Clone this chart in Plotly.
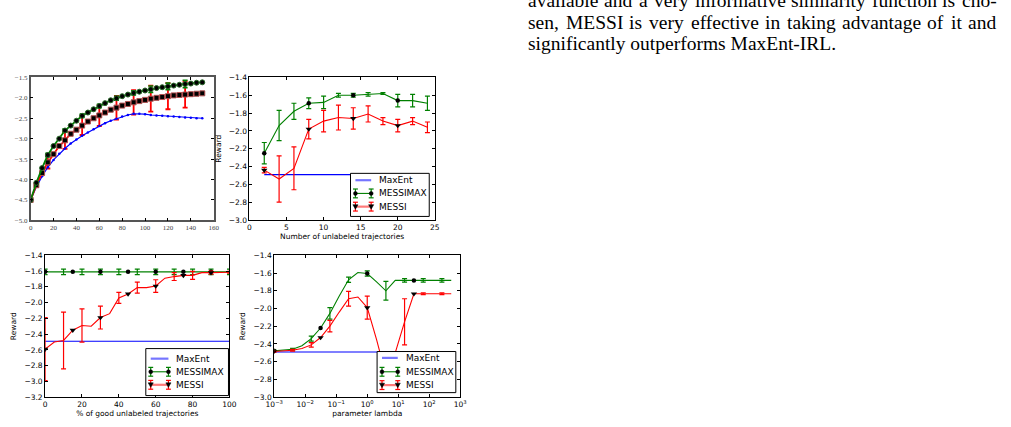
import plotly.graph_objects as go

W, H = 1011, 427

# ---------------- data ----------------
# Panel 1 (top-left): reward vs. x
p1_x = [0, 5, 10, 15, 20, 25, 30, 35, 40, 45, 50, 55, 60, 65, 70, 75, 80, 85, 90, 95,
        100, 105, 110, 115, 120, 125, 130, 135, 140, 145, 150]
p1_messimax = [-4.50, -4.08, -3.72, -3.40, -3.18, -3.00, -2.80, -2.68, -2.56, -2.44, -2.36,
               -2.28, -2.20, -2.13, -2.06, -2.01, -1.96, -1.92, -1.88, -1.85, -1.82, -1.79,
               -1.76, -1.74, -1.72, -1.70, -1.68, -1.66, -1.65, -1.63, -1.62]
p1_messi = [-4.50, -4.14, -3.84, -3.58, -3.38, -3.18, -3.04, -2.88, -2.78, -2.68, -2.58,
            -2.50, -2.43, -2.36, -2.29, -2.24, -2.19, -2.15, -2.11, -2.08, -2.05, -2.02,
            -2.00, -1.98, -1.96, -1.94, -1.93, -1.92, -1.91, -1.90, -1.89]
p1_maxent = [-4.50, -4.18, -3.92, -3.70, -3.52, -3.37, -3.24, -3.12, -3.02, -2.93, -2.85,
             -2.77, -2.69, -2.62, -2.56, -2.51, -2.46, -2.42, -2.39, -2.39, -2.40, -2.42,
             -2.43, -2.44, -2.45, -2.46, -2.47, -2.48, -2.49, -2.50, -2.50]
p1_err_x = [15, 30, 45, 60, 75, 90, 105, 120, 135]
p1_messi_err = [0.15, 0.21, 0.23, 0.26, 0.29, 0.30, 0.32, 0.32, 0.32]
p1_messimax_err = [0.04, 0.04, 0.04, 0.04, 0.05, 0.05, 0.08, 0.08, 0.09]

# Panel 2 (top-right): number of unlabeled trajectories
p2_x = [2, 4, 6, 8, 10, 12, 14, 16, 18, 20, 22, 24]
p2_messimax = [-2.25, -1.94, -1.78, -1.69, -1.68, -1.60, -1.60, -1.59, -1.58, -1.66, -1.66, -1.69]
p2_messimax_err = [0.12, 0.17, 0.09, 0.06, 0.07, 0.02, 0.02, 0.02, 0.01, 0.07, 0.07, 0.08]
p2_messi = [-2.44, -2.54, -2.42, -1.98, -1.89, -1.85, -1.86, -1.81, -1.89, -1.94, -1.89, -1.96]
p2_messi_err = [0.03, 0.26, 0.24, 0.11, 0.12, 0.14, 0.12, 0.09, 0.04, 0.07, 0.04, 0.06]
p2_maxent = [-2.49, -2.49, -2.49, -2.49, -2.49, -2.49, -2.49, -2.49, -2.49, -2.49, -2.49, -2.49]

# Panel 3 (bottom-left): % of good unlabeled trajectories
p3_x = [0, 5, 10, 15, 20, 25, 30, 35, 40, 45, 50, 55, 60, 65, 70, 75, 80, 85, 90, 95, 100]
p3_messimax = [-1.61, -1.61, -1.61, -1.61, -1.61, -1.61, -1.61, -1.61, -1.61, -1.61, -1.61,
               -1.61, -1.61, -1.61, -1.61, -1.61, -1.61, -1.61, -1.61, -1.61, -1.61]
p3_messi = [-2.59, -2.50, -2.48, -2.35, -2.29, -2.30, -2.19, -2.14, -1.94, -1.89, -1.81,
            -1.81, -1.79, -1.69, -1.67, -1.655, -1.655, -1.62, -1.62, -1.62, -1.615]
p3_err_x = [0, 10, 20, 30, 40, 50, 60, 70, 80, 90, 100]
p3_messimax_err = [0.035, 0.035, 0.035, 0.035, 0.035, 0.035, 0.035, 0.035, 0.035, 0.035, 0.035]
p3_messi_err = [0.40, 0.36, 0.21, 0.145, 0.07, 0.07, 0.08, 0.05, 0.05, 0.02, 0.01]
p3_maxent = [-2.49, -2.49, -2.49, -2.49, -2.49, -2.49, -2.49, -2.49, -2.49, -2.49, -2.49,
             -2.49, -2.49, -2.49, -2.49, -2.49, -2.49, -2.49, -2.49, -2.49, -2.49]

# Panel 4 (bottom-right): parameter lambda (log scale)
p4_lambda = [0.0009765625, 0.001953125, 0.00390625, 0.0078125, 0.015625, 0.03125, 0.0625,
             0.125, 0.25, 0.5, 1, 2, 4, 8, 16, 32, 64, 128, 256, 512]
p4_messimax = [-2.477, -2.47, -2.46, -2.42, -2.34, -2.22, -2.055, -1.86, -1.676, -1.594,
               -1.605, -1.70, -1.80, -1.683, -1.683, -1.683, -1.683, -1.683, -1.683, -1.683]
p4_messi = [-2.485, -2.48, -2.47, -2.45, -2.41, -2.327, -2.198, -2.04, -1.89, -1.87,
            -1.99, -2.35, -2.75, -2.50, -2.15, -1.834, -1.834, -1.834, -1.834, -1.834]
p4_err_x = [0.0009765625, 0.00390625, 0.015625, 0.0625, 0.25, 1, 4, 16, 64, 256]
p4_messimax_err = [0.01, 0.01, 0.028, 0.064, 0.03, 0.03, 0.105, 0.02, 0.02, 0.02]
p4_messi_err = [0.01, 0.01, 0.025, 0.065, 0.083, 0.13, 0.10, 0.26, 0.01, 0.01]
p4_maxent = [-2.49, -2.49, -2.49, -2.49, -2.49, -2.49, -2.49, -2.49, -2.49, -2.49,
             -2.49, -2.49, -2.49, -2.49, -2.49, -2.49, -2.49, -2.49, -2.49, -2.49]
p4_tickvals = [0.001, 0.01, 0.1, 1, 10, 100, 1000]
p4_ticktext = ["10<sup>−3</sup>", "10<sup>−2</sup>", "10<sup>−1</sup>", "10<sup>0</sup>",
               "10<sup>1</sup>", "10<sup>2</sup>", "10<sup>3</sup>"]

series_names = ["MaxEnt", "MESSIMAX", "MESSI"]

paragraph = ["available and a very informative similarity function is cho-",
             "sen, MESSI is very effective in taking advantage of it and",
             "significantly outperforms MaxEnt-IRL."]

# ---------------- helpers ----------------
GREEN = "#008000"
RED = "#ff0000"
BLUE = "#0000ff"


def fx(v):
    return v / W


def fy(v):
    return 1 - v / H


fig = go.Figure()


def line(x, y, color, width, xa, ya, mk=None, mk_every=None):
    fig.add_trace(go.Scatter(x=x, y=y, mode="lines", line=dict(color=color, width=width),
                             xaxis=xa, yaxis=ya, showlegend=False, hoverinfo="skip"))
    if mk is not None:
        if mk_every:
            xs = x[::mk_every]
            ys = y[::mk_every]
        else:
            xs, ys = x, y
        fig.add_trace(go.Scatter(x=xs, y=ys, mode="markers", marker=mk,
                                 xaxis=xa, yaxis=ya, showlegend=False, hoverinfo="skip"))


def errs(x, y, ex, err, color, xa, ya, thick=1.2, cap=2.5):
    ys = [y[x.index(v)] for v in ex]
    fig.add_trace(go.Scatter(x=ex, y=ys, mode="markers",
                             marker=dict(size=1, color="rgba(0,0,0,0)"),
                             error_y=dict(type="data", array=err, color=color,
                                          thickness=thick, width=cap),
                             xaxis=xa, yaxis=ya, showlegend=False, hoverinfo="skip"))


# ---------------- panel 1 ----------------
errs(p1_x, p1_messi, p1_err_x, p1_messi_err, RED, "x", "y", thick=1.8, cap=2.5)
line(p1_x, p1_maxent, BLUE, 1.2, "x", "y", mk=dict(size=2.5, color=BLUE, symbol="circle"))
line(p1_x, p1_messi, RED, 1.8, "x", "y",
     mk=dict(size=5, color="black", symbol="square", line=dict(color="#b05050", width=1)))
errs(p1_x, p1_messimax, p1_err_x, p1_messimax_err, GREEN, "x", "y", thick=1.6, cap=2.5)
line(p1_x, p1_messimax, GREEN, 1.8, "x", "y",
     mk=dict(size=5, color="black", symbol="circle", line=dict(color="#2a6a2a", width=1)))

# ---------------- panels 2-4 ----------------
MK_MAX = dict(size=4.5, color="black", symbol="circle")
MK_MES = dict(size=5.5, color="black", symbol="triangle-down")


def panel(x, maxent, messimax, mm_err_x, mm_err, messi, me_err_x, me_err, xa, ya, every):
    line(x, maxent, BLUE, 1.1, xa, ya)
    errs(x, messimax, mm_err_x, mm_err, GREEN, xa, ya)
    line(x, messimax, GREEN, 1.1, xa, ya, mk=MK_MAX, mk_every=every)
    errs(x, messi, me_err_x, me_err, RED, xa, ya)
    line(x, messi, RED, 1.1, xa, ya, mk=MK_MES, mk_every=every)


panel(p2_x, p2_maxent, p2_messimax, p2_x, p2_messimax_err, p2_messi, p2_x, p2_messi_err,
      "x2", "y2", 3)
panel(p3_x, p3_maxent, p3_messimax, p3_err_x, p3_messimax_err, p3_messi, p3_err_x,
      p3_messi_err, "x3", "y3", 3)
panel(p4_lambda, p4_maxent, p4_messimax, p4_err_x, p4_messimax_err, p4_messi, p4_err_x,
      p4_messi_err, "x4", "y4", 5)

# ---------------- axes ----------------
SANS = "DejaVu Sans"


def ax(domain, font=None, **kw):
    d = dict(domain=domain, showline=True, linecolor="black", linewidth=1, mirror="ticks",
             ticks="inside", ticklen=3, tickwidth=1, tickcolor="black", showgrid=False,
             zeroline=False, tickfont=font or dict(family=SANS, size=7.5, color="black"))
    d.update(kw)
    return d


SERIF_TICK = dict(family="Liberation Serif", size=7, color="#444444")
TITLE_FONT = dict(family=SANS, size=7.5, color="black")

fig.update_layout(
    xaxis=ax([fx(22), fx(208)], SERIF_TICK, anchor="y", range=[0, 160], tick0=0, dtick=20,
             linecolor="#555555", linewidth=1.5),
    yaxis=ax([fy(221), fy(75)], SERIF_TICK, anchor="x", range=[-5, -1.5], tick0=-5, dtick=0.5,
             tickformat=".1f", linecolor="#555555", linewidth=1.5),
    xaxis2=ax([fx(244.3), fx(432.7)], anchor="y2", range=[0, 25], tick0=0, dtick=5,
              title=dict(text="Number of unlabeled trajectories", font=TITLE_FONT, standoff=1)),
    yaxis2=ax([fy(220.7), fy(75)], anchor="x2", range=[-3.0, -1.4], tick0=-1.4, dtick=0.2,
              tickformat=".1f", title=dict(text="Reward", font=TITLE_FONT, standoff=6)),
    xaxis3=ax([fx(36.7), fx(224)], anchor="y3", range=[0, 100], tick0=0, dtick=20,
              title=dict(text="% of good unlabeled trajectories", font=TITLE_FONT, standoff=1)),
    yaxis3=ax([fy(401.7), fy(256.7)], anchor="x3", range=[-3.2, -1.4], tick0=-1.4, dtick=0.2,
              tickformat=".1f", title=dict(text="Reward", font=TITLE_FONT, standoff=6)),
    xaxis4=ax([fx(269.5), fx(458.5)], anchor="y4", type="log", range=[-3, 3],
              tickmode="array", tickvals=p4_tickvals, ticktext=p4_ticktext,
              title=dict(text="parameter lambda", font=TITLE_FONT, standoff=1)),
    yaxis4=ax([fy(401.7), fy(256.7)], anchor="x4", range=[-3.0, -1.4], tick0=-1.4, dtick=0.2,
              tickformat=".1f", title=dict(text="Reward", font=TITLE_FONT, standoff=6)),
    showlegend=False,
)

# ---------------- legends (drawn boxes, matplotlib style) ----------------
shapes = []
annotations = []


def seg(x0, y0, x1, y1, color, width):
    shapes.append(dict(type="line", xref="paper", yref="paper", x0=fx(x0), y0=fy(y0),
                       x1=fx(x1), y1=fy(y1), line=dict(color=color, width=width),
                       layer="above"))


def ebar(cx, cy, color):
    seg(cx, cy - 4.5, cx, cy + 4.5, color, 1.2)
    seg(cx - 2.5, cy - 4.5, cx + 2.5, cy - 4.5, color, 1.2)
    seg(cx - 2.5, cy + 4.5, cx + 2.5, cy + 4.5, color, 1.2)


def dot(cx, cy):
    shapes.append(dict(type="circle", xref="paper", yref="paper", x0=fx(cx - 2), y0=fy(cy + 2),
                       x1=fx(cx + 2), y1=fy(cy - 2), fillcolor="black",
                       line=dict(color="black", width=0.5), layer="above"))


def tri(cx, cy):
    p = "M {} {} L {} {} L {} {} Z".format(fx(cx - 2.6), fy(cy - 2), fx(cx + 2.6), fy(cy - 2),
                                            fx(cx), fy(cy + 2.6))
    shapes.append(dict(type="path", xref="paper", yref="paper", path=p, fillcolor="black",
                       line=dict(color="black", width=0.5), layer="above"))


def legend_box(x0, x1, y0, y1, rows, sx0, sx1, tx):
    shapes.append(dict(type="rect", xref="paper", yref="paper", x0=fx(x0), y0=fy(y1),
                       x1=fx(x1), y1=fy(y0), fillcolor="white",
                       line=dict(color="black", width=1), layer="above"))
    # MaxEnt
    seg(sx0, rows[0], sx1, rows[0], "#7575ff", 2.2)
    # MESSIMAX
    seg(sx0, rows[1], sx1, rows[1], GREEN, 1.1)
    ebar(sx0, rows[1], GREEN)
    ebar(sx1, rows[1], GREEN)
    dot(sx0, rows[1])
    dot(sx1, rows[1])
    # MESSI
    seg(sx0, rows[2], sx1, rows[2], "#ff7a7a", 2.2)
    ebar(sx0, rows[2], RED)
    ebar(sx1, rows[2], RED)
    tri(sx0, rows[2])
    tri(sx1, rows[2])
    for name, ry in zip(series_names, rows):
        annotations.append(dict(text=name, x=fx(tx), y=fy(ry), xref="paper", yref="paper",
                                xanchor="left", yanchor="middle", showarrow=False,
                                borderpad=0, borderwidth=0,
                                font=dict(family=SANS, size=9, color="black")))


legend_box(347, 427, 173, 217, [180.0, 193.5, 207.0], 352, 368, 376)
legend_box(139, 223, 352, 400, [362.3, 375.7, 389.0], 144, 162, 169.5)
legend_box(374, 454, 355, 397, [361.5, 375.7, 389.3], 379, 395, 403)

# ---------------- paragraph text (justified) ----------------
TW = {' ': 250, ',': 250, '.': 250, '-': 333, 'a': 444, 'b': 500, 'c': 444, 'd': 500,
      'e': 444, 'f': 333, 'g': 500, 'h': 500, 'i': 278, 'j': 278, 'k': 500, 'l': 278,
      'm': 778, 'n': 500, 'o': 500, 'p': 500, 'q': 500, 'r': 333, 's': 389, 't': 278,
      'u': 500, 'v': 500, 'w': 722, 'x': 500, 'y': 500, 'z': 444, 'M': 889, 'E': 611,
      'S': 556, 'I': 333, 'A': 722, 'X': 722, 'R': 667, 'L': 611}
FS = 19.5
LEFT, RIGHT = 527.5, 1003.0
baselines = [3.5, 25.5, 46.5]
justify = [True, True, False]


def tw(s):
    return sum(TW.get(c, 500) for c in s) * FS / 1000.0


for text, base, just in zip(paragraph, baselines, justify):
    cy = base - 0.3375 * FS
    if just:
        words = text.split(" ")
        widths = [tw(w) for w in words]
        gap = (RIGHT - LEFT - sum(widths)) / (len(words) - 1)
        xpos = LEFT
        for w, wd in zip(words, widths):
            annotations.append(dict(text=w, x=fx(xpos), y=fy(cy), xref="paper", yref="paper",
                                    xanchor="left", yanchor="middle", showarrow=False,
                                    borderpad=0, borderwidth=0,
                                    font=dict(family="Liberation Serif", size=FS, color="black")))
            xpos += wd + gap
    else:
        annotations.append(dict(text=text, x=fx(LEFT), y=fy(cy), xref="paper", yref="paper",
                                xanchor="left", yanchor="middle", showarrow=False,
                                borderpad=0, borderwidth=0,
                                font=dict(family="Liberation Serif", size=FS, color="black")))

fig.update_layout(
    width=W, height=H, autosize=False,
    margin=dict(l=0, r=0, t=0, b=0),
    paper_bgcolor="white", plot_bgcolor="white",
    annotations=annotations, shapes=shapes,
)

fig.write_html("out.html")
